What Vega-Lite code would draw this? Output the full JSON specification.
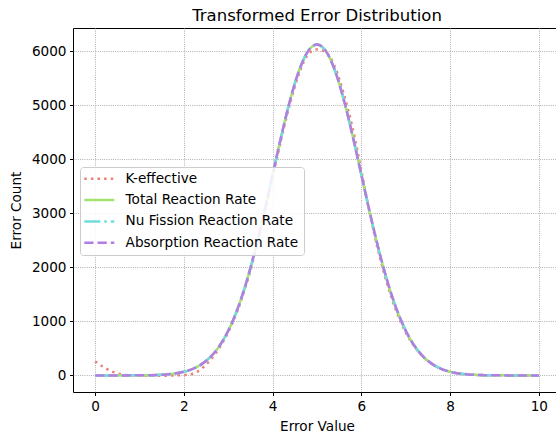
{
  "$schema": "https://vega.github.io/schema/vega-lite/v6.json",
  "autosize": {"type": "none"},
  "padding": {"left": 73, "top": 28, "right": 0, "bottom": 42},
  "width": 488,
  "height": 364,
  "title": {"text": "Transformed Error Distribution", "fontSize": 16.5, "fontWeight": "normal", "color": "#000000", "offset": 4, "font": "DejaVu Sans"},
  "datasets": {
    "main": [
      {"x": 0.0, "y": 0.02}, {"x": 0.2, "y": 0.06}, {"x": 0.4, "y": 0.16}, {"x": 0.6, "y": 0.38}, {"x": 0.8, "y": 0.91},
      {"x": 1.0, "y": 2.05}, {"x": 1.2, "y": 4.48}, {"x": 1.4, "y": 9.38}, {"x": 1.6, "y": 18.9}, {"x": 1.8, "y": 36.6},
      {"x": 2.0, "y": 68.1}, {"x": 2.2, "y": 121.5}, {"x": 2.4, "y": 208.6}, {"x": 2.6, "y": 343.8}, {"x": 2.8, "y": 544.6},
      {"x": 3.0, "y": 829.0}, {"x": 3.2, "y": 1212.1}, {"x": 3.4, "y": 1703.0}, {"x": 3.6, "y": 2298.8}, {"x": 3.8, "y": 2981.3},
      {"x": 4.0, "y": 3715.0}, {"x": 4.2, "y": 4447.7}, {"x": 4.4, "y": 5116.0}, {"x": 4.6, "y": 5654.1}, {"x": 4.8, "y": 6003.7},
      {"x": 5.0, "y": 6125.0}, {"x": 5.2, "y": 6003.7}, {"x": 5.4, "y": 5654.1}, {"x": 5.6, "y": 5116.0}, {"x": 5.8, "y": 4447.7},
      {"x": 6.0, "y": 3715.0}, {"x": 6.2, "y": 2981.3}, {"x": 6.4, "y": 2298.8}, {"x": 6.6, "y": 1703.0}, {"x": 6.8, "y": 1212.1},
      {"x": 7.0, "y": 829.0}, {"x": 7.2, "y": 544.6}, {"x": 7.4, "y": 343.8}, {"x": 7.6, "y": 208.6}, {"x": 7.8, "y": 121.5},
      {"x": 8.0, "y": 68.1}, {"x": 8.2, "y": 36.6}, {"x": 8.4, "y": 18.9}, {"x": 8.6, "y": 9.38}, {"x": 8.8, "y": 4.48},
      {"x": 9.0, "y": 2.05}, {"x": 9.2, "y": 0.91}, {"x": 9.4, "y": 0.38}, {"x": 9.6, "y": 0.16}, {"x": 9.8, "y": 0.06},
      {"x": 10.0, "y": 0.02}
    ]
  },
  "data": {"values": [
    {"s": "K-effective", "x": 0.0, "y": 260}, {"s": "K-effective", "x": 0.2, "y": 150}, {"s": "K-effective", "x": 0.4, "y": 65},
    {"s": "K-effective", "x": 0.6, "y": 18}, {"s": "K-effective", "x": 0.8, "y": 2}, {"s": "K-effective", "x": 1.0, "y": -4},
    {"s": "K-effective", "x": 1.2, "y": -6}, {"s": "K-effective", "x": 1.4, "y": -6}, {"s": "K-effective", "x": 1.6, "y": -4},
    {"s": "K-effective", "x": 1.8, "y": 0}, {"s": "K-effective", "x": 2.0, "y": 6}, {"s": "K-effective", "x": 2.2, "y": 30},
    {"s": "K-effective", "x": 2.4, "y": 125}, {"s": "K-effective", "x": 2.6, "y": 290}, {"s": "K-effective", "x": 2.8, "y": 510},
    {"s": "K-effective", "x": 3.0, "y": 800}, {"s": "K-effective", "x": 3.2, "y": 1180}, {"s": "K-effective", "x": 3.4, "y": 1665},
    {"s": "K-effective", "x": 3.6, "y": 2255}, {"s": "K-effective", "x": 3.8, "y": 2935}, {"s": "K-effective", "x": 4.0, "y": 3665},
    {"s": "K-effective", "x": 4.2, "y": 4395}, {"s": "K-effective", "x": 4.4, "y": 5060}, {"s": "K-effective", "x": 4.6, "y": 5595},
    {"s": "K-effective", "x": 4.8, "y": 5945}, {"s": "K-effective", "x": 5.0, "y": 6035}, {"s": "K-effective", "x": 5.2, "y": 5985},
    {"s": "K-effective", "x": 5.4, "y": 5720}, {"s": "K-effective", "x": 5.6, "y": 5220}, {"s": "K-effective", "x": 5.8, "y": 4590},
    {"s": "K-effective", "x": 6.0, "y": 3790}, {"s": "K-effective", "x": 6.2, "y": 2960}, {"s": "K-effective", "x": 6.4, "y": 2240},
    {"s": "K-effective", "x": 6.6, "y": 1645}, {"s": "K-effective", "x": 6.8, "y": 1165}, {"s": "K-effective", "x": 7.0, "y": 797},
    {"s": "K-effective", "x": 7.2, "y": 528}, {"s": "K-effective", "x": 7.4, "y": 336}, {"s": "K-effective", "x": 7.6, "y": 205},
    {"s": "K-effective", "x": 7.8, "y": 120}, {"s": "K-effective", "x": 8.0, "y": 67}, {"s": "K-effective", "x": 8.2, "y": 36},
    {"s": "K-effective", "x": 8.4, "y": 18.5}, {"s": "K-effective", "x": 8.6, "y": 9.2}, {"s": "K-effective", "x": 8.8, "y": 4.4},
    {"s": "K-effective", "x": 9.0, "y": 2}, {"s": "K-effective", "x": 9.2, "y": 0.9}, {"s": "K-effective", "x": 9.4, "y": 0.38},
    {"s": "K-effective", "x": 9.6, "y": 0.16}, {"s": "K-effective", "x": 9.8, "y": 0.06}, {"s": "K-effective", "x": 10.0, "y": 0.02}
  ]},
  "layer": [
    {
      "mark": {"type": "line", "strokeWidth": 2.5, "interpolate": "monotone", "clip": true},
      "encoding": {
        "x": {"field": "x", "type": "quantitative", "scale": {"domain": [-0.5, 10.5], "nice": false, "zero": false},
              "axis": {"title": "Error Value", "values": [0, 2, 4, 6, 8, 10], "format": "d"}},
        "y": {"field": "y", "type": "quantitative", "scale": {"domain": [-307, 6432], "nice": false, "zero": false},
              "axis": {"title": "Error Count", "values": [0, 1000, 2000, 3000, 4000, 5000, 6000], "format": "d"}},
        "color": {"field": "s", "type": "nominal",
          "scale": {"domain": ["K-effective", "Total Reaction Rate", "Nu Fission Reaction Rate", "Absorption Reaction Rate"],
                    "range": ["#ea827a", "#a2e36f", "#70dcdc", "#b27ee6"]},
          "legend": {"title": null}},
        "strokeDash": {"field": "s", "type": "nominal",
          "scale": {"domain": ["K-effective", "Total Reaction Rate", "Nu Fission Reaction Rate", "Absorption Reaction Rate"],
                    "range": [[2.5, 4.1], [1, 0], [16, 4, 2.5, 4], [9.25, 4]]},
          "legend": {"title": null}}
      }
    },
    {
      "data": {"name": "main"},
      "transform": [{"fold": ["Total Reaction Rate", "Nu Fission Reaction Rate", "Absorption Reaction Rate"], "as": ["s", "dummy"]}],
      "mark": {"type": "line", "strokeWidth": 2.5, "interpolate": "monotone", "clip": true},
      "encoding": {
        "x": {"field": "x", "type": "quantitative"},
        "y": {"field": "y", "type": "quantitative"},
        "color": {"field": "s", "type": "nominal"},
        "strokeDash": {"field": "s", "type": "nominal"}
      }
    }
  ],
  "config": {
    "font": "DejaVu Sans",
    "view": {"stroke": "#000000", "strokeWidth": 1},
    "axis": {
      "labelFontSize": 13.6, "titleFontSize": 13.6, "labelColor": "#000000", "titleColor": "#000000",
      "titleFontWeight": "normal", "labelFont": "DejaVu Sans", "titleFont": "DejaVu Sans",
      "tickColor": "#000000", "tickSize": 3.5, "labelPadding": 3.5, "domain": false,
      "grid": true, "gridColor": "#a8a8a8", "gridDash": [0.9, 1.3], "gridWidth": 1
    },
    "axisX": {"titlePadding": 7},
    "axisY": {"titlePadding": 8},
    "legend": {
      "orient": "none", "legendX": 7, "legendY": 139,
      "strokeColor": "#cccccc", "fillColor": "rgba(255,255,255,0.85)", "cornerRadius": 3, "padding": 5,
      "labelFontSize": 13.6, "labelFont": "DejaVu Sans", "labelColor": "#000000", "labelLimit": 0,
      "symbolType": "M-1.5,0H4.5", "symbolSize": 100, "symbolStrokeWidth": 2.5, "labelOffset": 27, "rowPadding": 6.3
    }
  }
}
